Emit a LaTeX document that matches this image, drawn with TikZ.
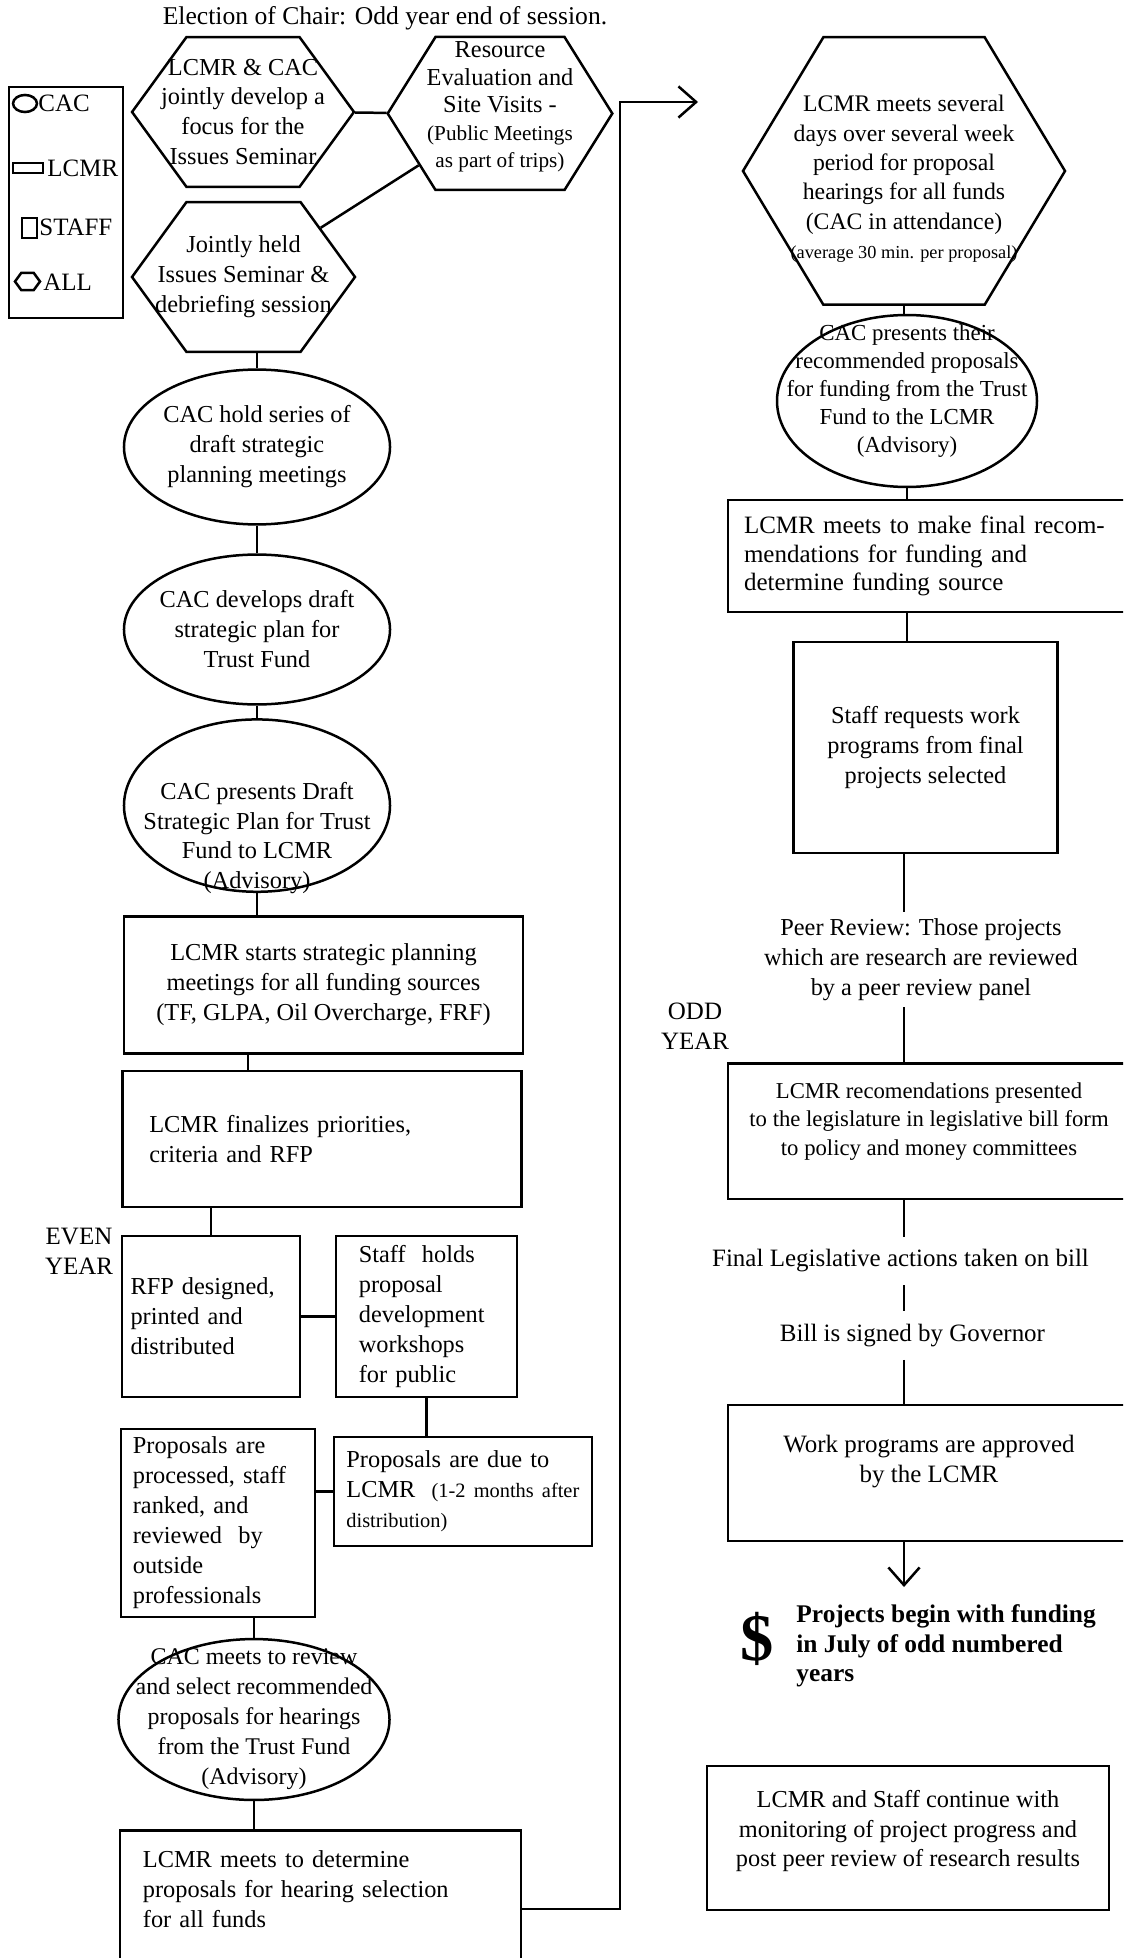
\documentclass[tikz,border=0pt]{standalone}
\usepackage{fontspec}
\setmainfont{Liberation Serif}
\usepackage{tikz}
\usetikzlibrary{arrows.meta,shapes,positioning}
\tikzset{>={Straight Barb[length=8.5pt,width=15pt]}}
\tikzset{cacnode/.style={shape=ellipse, draw, very thick, inner sep=-20pt, align=center}}
\tikzset{lcmrnode/.style={shape=rectangle, draw, very thick, inner sep=0pt, align=center}}
\tikzset{staffnode/.style={shape=rectangle, draw, very thick, inner sep=0pt, align=center}}
\tikzset{allnode/.style={shape=signal, signal to=east and west, signal pointer angle=108,
    draw, very thick, inner sep=-20pt, align=center}}
\tikzset{freetext/.style={inner xsep=1pt, inner ysep=3pt, align=center}}

\begin{document}
\begin{tikzpicture}[x=0.4804pt, y=-0.4804pt]
    \tikzstyle{every node}=[font=\fontsize{11.7}{14.4}\selectfont]
    \useasboundingbox (0,0) rectangle (1123,1958);
    \clip (0,0) rectangle (1123,1958);
    % legend
    \node[lcmrnode, minimum width=55pt, minimum height=111pt] (key) at (66,202.5) {};
    \node[cacnode, inner sep=0pt, minimum width=11.5pt, minimum height=8.2pt] (keyc) at (25,103.5) {};
    \node[lcmrnode, minimum width=14.4pt, minimum height=4.8pt] (keyl) at (28,168) {};
    \node[staffnode, minimum width=7.2pt, minimum height=9.6pt] (keys) at (29.5,228) {};
    \node[allnode, inner sep=0pt, minimum width=12pt, minimum height=8.2pt] (keya) at (27.5,281.5) {};
    \node[anchor=west, inner sep=0pt, font=\fontsize{12}{14}\selectfont] (keyctext) at (38,103) {CAC};
    \node[anchor=west, inner sep=0pt, font=\fontsize{12}{14}\selectfont] (keyltext) at (47,168) {LCMR};
    \node[anchor=west, inner sep=0pt, font=\fontsize{12}{14}\selectfont] (keystext) at (39,227) {STAFF};
    \node[anchor=west, inner sep=0pt, font=\fontsize{12}{14}\selectfont] (keyatext) at (43,282) {ALL};

    % issues seminar
    \node[font=\fontsize{12.3}{14.4}\selectfont] (title) at (385,18) {Election of Chair: Odd year end of session.};
    \node[allnode, minimum width=106.6pt, minimum height=72pt] (h1) at (243,112)
        {LCMR \& CAC\\jointly develop a\\focus for the\\Issues Seminar};
    \node[allnode, signal pointer angle=116, minimum width=107.9pt, minimum height=73.5pt,
        font=\fontsize{11.7}{13.2}\selectfont] (h2) at (500,113.5)
        {Resource\\Evaluation and\\Site Visits -\\{\fontsize{10.2}{12.5}\selectfont(Public Meetings}\\{\fontsize{10.2}{12.5}\selectfont as part of trips)}\\[-4.9pt]{}};
    \node[allnode, minimum width=107.1pt, minimum height=72pt] (h3) at (243.5,277)
        {Jointly held\\Issues Seminar \&\\debriefing session};

    % strategic plan
    \node[cacnode, minimum width=127.8pt, minimum height=74.4pt] (e1) at (257,447)
        {CAC hold series of\\draft strategic\\planning meetings};
    \node[cacnode, minimum width=127.8pt, minimum height=72pt] (e2) at (257,629.5)
        {CAC develops draft\\strategic plan for\\Trust Fund};
    \node[cacnode, minimum width=127.8pt, minimum height=82.8pt] (e3) at (257,805.6)
        {{}\\[25pt]CAC presents Draft\\Strategic Plan for Trust\\Fund to LCMR\\(Advisory)};
    \node[lcmrnode, minimum width=191.7pt, minimum height=65.6pt] (r1) at (323.5,985)
        {LCMR starts strategic planning\\meetings for all funding sources\\(TF, GLPA, Oil Overcharge, FRF)};
    \node[lcmrnode, minimum width=191.9pt, minimum height=65.3pt, text width=165.9pt, align=left] (r2) at (322,1139)
        {LCMR finalizes priorities,\\criteria and RFP};

    % even year
    \node[freetext, font=\fontsize{12}{14.4}\selectfont] (even) at (79,1251) {EVEN\\YEAR};
    \node[lcmrnode, minimum width=85.5pt, minimum height=77.3pt, text width=77.3pt, align=left] (rfp) at (211,1316.5)
        {RFP designed,\\printed and\\distributed};
    \node[staffnode, minimum width=87pt, minimum height=77.3pt, text width=65pt, align=left] (wksp) at (426.5,1316.5)
        {Staff\ \ holds\\proposal\\development\\workshops\\for public};
    \node[lcmrnode, minimum width=123.9pt, minimum height=52.4pt, text width=112pt, align=left] (due) at (463,1491.5)
        {Proposals are due to\\LCMR\ \ {\fontsize{9.8}{11}\selectfont(1-2 months after}\\{\fontsize{9.8}{11}\selectfont distribution)}};
    \node[staffnode, minimum width=93.4pt, minimum height=90.3pt, text width=81.8pt, align=left] (proc) at (218,1523)
        {Proposals are\\processed, staff\\ranked, and\\reviewed\ \ by\\outside\\professionals};
    \node[cacnode, minimum width=130.2pt, minimum height=77.3pt, font=\fontsize{11.5}{14.4}\selectfont] (e4) at (254,1719.5)
        {CAC meets to review\\and select recommended\\proposals for hearings\\from the Trust Fund\\(Advisory)};
    \node[lcmrnode, anchor=north, minimum width=192.6pt, text width=170.6pt, align=left, inner ysep=10pt] (sel) at (320.5,1829)
        {LCMR meets to determine\\proposals for hearing selection\\for all funds\\\rule{0pt}{50pt}};

    % hearings, odd year
    \node[allnode, signal pointer angle=118, minimum width=154.7pt, minimum height=128.5pt,
        font=\fontsize{11.4}{14.1}\selectfont] (h4) at (904,171)
        {{}\\[1.4pt]LCMR meets several\\days over several week\\period for proposal\\hearings for all funds\\(CAC in attendance)\\{\fontsize{8.8}{10}\selectfont(average 30 min. per proposal)}};
    \node[cacnode, minimum width=124.9pt, minimum height=82.6pt, font=\fontsize{11}{13.5}\selectfont] (e5) at (907,401)
        {CAC presents their\\recommended proposals\\for funding from the Trust\\Fund to the LCMR\\(Advisory)\\[-1.4pt]{}};
    \node[lcmrnode, minimum width=193.1pt, minimum height=54pt, text width=177.7pt, align=left,
        font=\fontsize{12}{13.6}\selectfont] (fin) at (929,556)
        {LCMR meets to make final recom-\\mendations for funding and\\determine funding source};
    \node[staffnode, minimum width=127pt, minimum height=101.4pt] (wprog) at (925.5,747.5)
        {Staff requests work\\programs from final\\projects selected};
    \node[freetext] (peer) at (921,959.5)
        {Peer Review: Those projects\\which are research are reviewed\\by a peer review panel};
    \node[freetext, font=\fontsize{12}{14.4}\selectfont] (odd) at (695,1026) {ODD\\YEAR};
    \node[lcmrnode, minimum width=193.1pt, minimum height=65.1pt, font=\fontsize{10.9}{13.8}\selectfont] (leg) at (929,1131)
        {LCMR recomendations presented\\to the legislature in legislative bill form\\to policy and money committees\\[-2.2pt]{}};
    \node[freetext, inner ysep=6pt, font=\fontsize{12}{14.4}\selectfont] (act) at (900.5,1261) {Final Legislative actions taken on bill};
    \node[freetext, inner ysep=6pt, font=\fontsize{12}{14.4}\selectfont] (gov) at (912.5,1335.6) {Bill is signed by Governor};
    \node[lcmrnode, minimum width=193.1pt, minimum height=65.3pt, font=\fontsize{12}{14.4}\selectfont] (appr) at (929,1473)
        {Work programs are approved\\by the LCMR\\[-1pt]{}};
    \coordinate (fund) at (904,1587);
    \node[inner sep=0pt, font=\fontsize{32}{32}\selectfont\bfseries] (dollar) at (757.5,1638.5) {\$};
    \node[anchor=west, align=left, inner sep=0pt, font=\fontsize{12.2}{14.2}\selectfont\bfseries] (proj) at (796,1646)
        {Projects begin with funding\\in July of odd numbered\\years};
    \node[lcmrnode, minimum width=193.1pt, minimum height=69.2pt] (mon) at (908,1838)
        {LCMR and Staff continue with\\monitoring of project progress and\\post peer review of research results\\[-5.2pt]{}};

    % connectors, left
    \draw [draw=black, very thick] (h1) to (h2);
    \draw [draw=black, very thick] (h3) to (h2);
    \draw [draw=black, very thick] (e1.north |- h3.south) to (e1.north);
    \draw [draw=black, very thick] (e1) to (e2);
    \draw [draw=black, very thick] (e2) to (e3);
    \draw [draw=black, very thick] (e3.south) to (e3.south |- r1.north);
    \coordinate (r1link) at ([xshift=-36.3pt]r1.south);
    \draw [draw=black, very thick] (r1link) to (r1link |- r2.north);
    \draw [draw=black, very thick] (rfp.north |- r2.south) to (rfp.north);
    \draw [draw=black, very thick] (rfp) to (wksp);
    \draw [draw=black, very thick] (wksp.south) to (wksp.south |- due.north);
    \draw [draw=black, very thick] (due.west) to (due.west -| proc.east);
    \draw [draw=black, very thick] (e4.north |- proc.south) to (e4.north);
    \draw [draw=black, very thick] (e4.south) to (e4.south |- sel.north);
    \coordinate (turn) at (620,1909);
    \coordinate (tip) at (698,102);
    \draw [->, draw=black, very thick] (turn -| sel.east) -- (turn) |- (tip);

    % connectors, right
    \draw [draw=black, very thick] (h4.south) to (h4.south |- e5.north);
    \draw [draw=black, very thick] (e5.south) to (e5.south |- fin.north);
    \draw [draw=black, very thick] (e5.south |- fin.south) to (e5.south |- wprog.north);
    \draw [draw=black, very thick] (h4.south |- wprog.south) to (h4.south |- peer.north);
    \draw [draw=black, very thick] (h4.south |- peer.south) to (h4.south |- leg.north);
    \draw [draw=black, very thick] (h4.south |- leg.south) to (h4.south |- act.north);
    \draw [draw=black, very thick] (h4.south |- act.south) to (h4.south |- gov.north);
    \draw [draw=black, very thick] (h4.south |- gov.south) to (h4.south |- appr.north);
    \draw [->, draw=black, very thick] (h4.south |- appr.south) to (fund);
\end{tikzpicture}
\end{document}
